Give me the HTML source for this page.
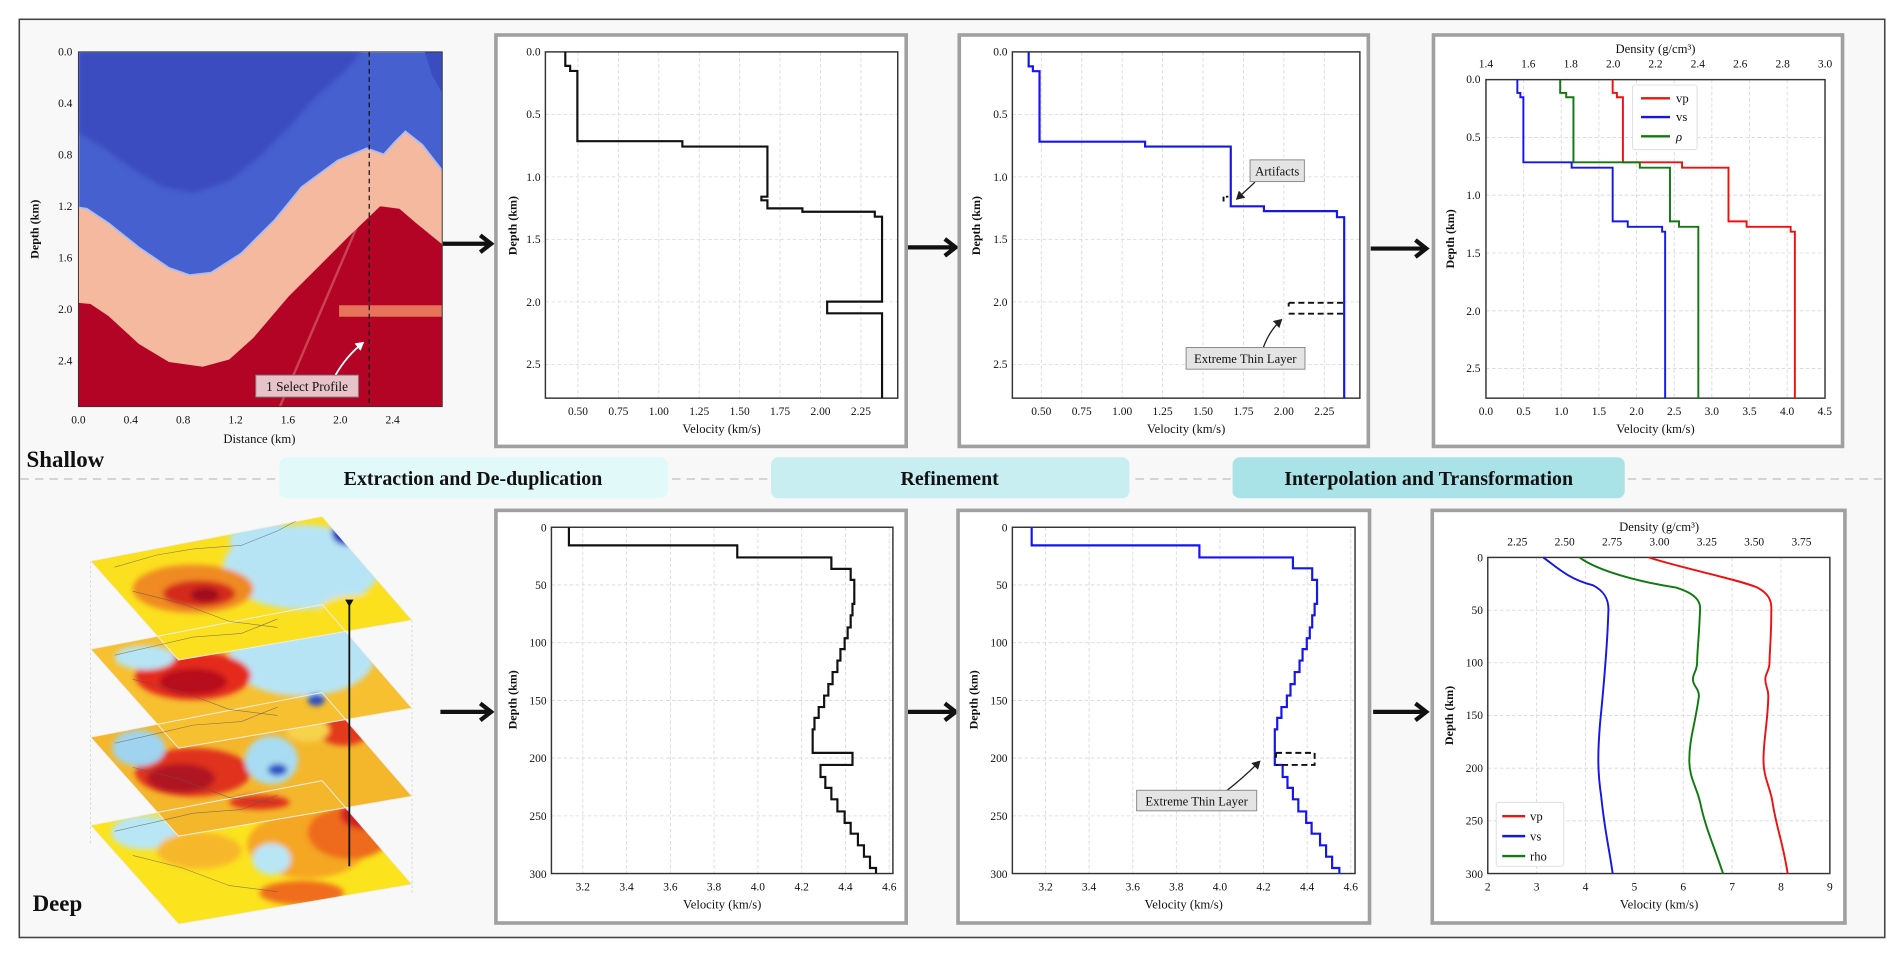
<!DOCTYPE html>
<html><head><meta charset="utf-8"><style>
html,body{margin:0;padding:0;background:#fff;}
svg{display:block}
text{font-family:"Liberation Serif",serif;fill:#111}
.t{font-size:9.5px}
.ty{font-size:9.5px;text-anchor:end}
.tx{font-size:9.5px;text-anchor:middle}
.al{font-size:10.5px;text-anchor:middle}
.dl{font-size:10px;font-weight:bold;text-anchor:middle}
.g{stroke:#d8d8d8;stroke-width:.7;stroke-dasharray:3 2;fill:none}
.ax{fill:none;stroke:#333;stroke-width:1.2}
.box{fill:#fff;stroke:#a0a0a0;stroke-width:3}
.gt{fill:#1a8a1a;font-size:9.5px;text-anchor:middle}
.pill{font-size:16.5px;font-weight:bold;text-anchor:middle}
</style></head><body>
<svg width="1892" height="958" viewBox="0 0 1568 794" preserveAspectRatio="none" xmlns="http://www.w3.org/2000/svg">
<defs>
<marker id="ah" markerWidth="8" markerHeight="8" refX="6" refY="4" orient="auto" markerUnits="userSpaceOnUse"><path d="M0,0 L7,4 L0,8 Z" fill="#222"/></marker>
<marker id="aw" markerWidth="8" markerHeight="8" refX="6" refY="4" orient="auto" markerUnits="userSpaceOnUse"><path d="M0,0 L7,4 L0,8 Z" fill="#fff"/></marker>
<filter id="bl" x="-20%" y="-20%" width="140%" height="140%"><feGaussianBlur stdDeviation="2.2"/></filter>
<filter id="sh" x="-5%" y="-5%" width="110%" height="110%"><feGaussianBlur stdDeviation="1.5"/></filter>
<clipPath id="hm"><rect x="65" y="43" width="301.5" height="294"/></clipPath>
<clipPath id="L0"><polygon points="75,465 267,428 341.5,514 148,547"/></clipPath>
<clipPath id="L1"><polygon points="75,538 267,501 341.5,587 148,620"/></clipPath>
<clipPath id="L2"><polygon points="75,611 267,574 341.5,660 148,693"/></clipPath>
<clipPath id="L3"><polygon points="75,684 267,647 341.5,733 148,766"/></clipPath>
</defs>
<rect x="0" y="0" width="1568" height="794" fill="#fff"/>
<rect x="16" y="16" width="1546" height="761" fill="#f8f8f8" stroke="#444" stroke-width="1.3"/>
<line x1="17" y1="397" x2="1561" y2="397" stroke="#cfcfcf" stroke-width="1.5" stroke-dasharray="7 5"/>

<!-- pills -->
<rect x="231.5" y="379" width="322" height="34" rx="6" fill="#e2f9f9"/>
<rect x="639" y="379" width="297" height="34" rx="6" fill="#c9eef1"/>
<rect x="1021.5" y="379" width="325" height="34" rx="6" fill="#a9e3e8"/>
<text class="pill" x="392" y="402">Extraction and De-duplication</text>
<text class="pill" x="787" y="402">Refinement</text>
<text class="pill" x="1184" y="402">Interpolation and Transformation</text>
<text x="22" y="387" style="font-size:19px;font-weight:bold">Shallow</text>
<text x="27" y="755" style="font-size:19px;font-weight:bold">Deep</text>

<!-- ============ HEATMAP ============ -->
<g clip-path="url(#hm)">
<rect x="65" y="43" width="302" height="294" fill="#b40426"/>
<path d="M65,43 L367,43 L367,203 L345,185 L331,173 L315,171 L290,195 L260,225 L239,246 L210,280 L190,298 L168,304 L140,300 L115,285 L90,262 L75,252 L65,251 Z" fill="#f4b99e"/>
<line x1="232" y1="337" x2="312" y2="150" stroke="#f4b99e" stroke-width="2" opacity=".35"/>
<path d="M65,43 L367,43 L367,142 L350,120 L336,109 L327,118 L318,128 L304,123 L280,133 L250,155 L228,182 L200,210 L175,226 L157,228 L140,222 L115,205 L90,185 L72,173 L65,172 Z" fill="#4660d0" stroke="#a9bdf2" stroke-width="1.5"/>
<path d="M65,43 L300,43 L285,60 L262,80 L240,105 L215,130 L190,150 L160,160 L135,155 L110,140 L85,122 L65,110 Z" fill="#3b4cc0" filter="url(#bl)"/>
<path d="M352,43 L367,43 L367,78 L358,62 Z" fill="#3b4cc0"/>
<rect x="281" y="253" width="86" height="9.5" fill="#e6735a"/>
</g>
<rect x="65" y="43" width="301.5" height="294" fill="none" stroke="#333" stroke-width=".8"/>
<line x1="306" y1="43" x2="306" y2="337" stroke="#111" stroke-width="1" stroke-dasharray="4 3"/>
<path d="M278,311 Q287,295 301,284" stroke="#fff" stroke-width="1.5" fill="none" marker-end="url(#aw)"/>
<rect x="212" y="311" width="85" height="18" fill="#e8c2c9" stroke="#888" stroke-width=".8"/>
<text x="254.5" y="324" class="tx" style="font-size:11px">1 Select Profile</text>
<g class="ty"><text x="60" y="46">0.0</text><text x="60" y="88.7">0.4</text><text x="60" y="131.4">0.8</text><text x="60" y="174">1.2</text><text x="60" y="216.7">1.6</text><text x="60" y="259.4">2.0</text><text x="60" y="302">2.4</text></g>
<g class="tx"><text x="65" y="351">0.0</text><text x="108.4" y="351">0.4</text><text x="151.8" y="351">0.8</text><text x="195.2" y="351">1.2</text><text x="238.6" y="351">1.6</text><text x="282" y="351">2.0</text><text x="325.4" y="351">2.4</text></g>
<text class="al" x="215" y="367">Distance (km)</text>
<text class="dl" transform="translate(32,190) rotate(-90)">Depth (km)</text>

<!-- arrows between -->
<g stroke="#111" stroke-width="3.5" fill="none">
<path d="M367,202 H405"/><path d="M398,195 L407,202 L398,209"/>
<path d="M752,205 H790"/><path d="M783,198 L792,205 L783,212"/>
<path d="M1136,206 H1180"/><path d="M1173,199 L1182,206 L1173,213"/>
<path d="M365,590 H405"/><path d="M398,583 L407,590 L398,597"/>
<path d="M752,590 H790"/><path d="M783,583 L792,590 L783,597"/>
<path d="M1138,590 H1180"/><path d="M1173,583 L1182,590 L1173,597"/>
</g>

<!-- ============ TOP BOX 2 ============ -->
<rect class="box" x="411" y="29" width="340" height="341"/>
<g class="g"><path d="M479,43V330M512.5,43V330M546,43V330M579.5,43V330M613,43V330M646.5,43V330M680,43V330M713.5,43V330M452,94.8H744M452,146.6H744M452,198.4H744M452,250.2H744M452,302H744"/></g>
<rect class="ax" x="452" y="43" width="292" height="287"/>
<path d="M468.5,43 V54.6 H472.5 V58.8 H478.5 V117 H565.5 V121.5 H636 V163 H631 V166 H636 V172.7 H665 V175.5 H725 V179.6 H731 V250 H685.5 V259.7 H731 V330" fill="none" stroke="#111" stroke-width="1.8"/>
<g class="ty"><text x="448" y="46">0.0</text><text x="448" y="98">0.5</text><text x="448" y="150">1.0</text><text x="448" y="201.5">1.5</text><text x="448" y="253.5">2.0</text><text x="448" y="305">2.5</text></g>
<g class="tx"><text x="479" y="344">0.50</text><text x="512.5" y="344">0.75</text><text x="546" y="344">1.00</text><text x="579.5" y="344">1.25</text><text x="613" y="344">1.50</text><text x="646.5" y="344">1.75</text><text x="680" y="344">2.00</text><text x="713.5" y="344">2.25</text></g>
<text class="al" x="598" y="359">Velocity (km/s)</text>
<text class="dl" transform="translate(428,187) rotate(-90)">Depth (km)</text>

<!-- ============ TOP BOX 3 ============ -->
<rect class="box" x="795" y="29" width="339" height="341"/>
<g class="g"><path d="M863,43V330M896.5,43V330M930,43V330M963.5,43V330M997,43V330M1030.5,43V330M1064,43V330M1097.5,43V330M839,94.8H1127M839,146.6H1127M839,198.4H1127M839,250.2H1127M839,302H1127"/></g>
<rect class="ax" x="839" y="43" width="288" height="287"/>
<path d="M852.5,43 V55 H856 V59 H861.5 V117.4 H949 V121.5 H1020 V171 H1047.5 V175 H1108 V180 H1114 V330" fill="none" stroke="#1515ee" stroke-width="1.8"/>
<path d="M1014,163 V167 M1016,163 H1018" stroke="#111" stroke-width="1.6" fill="none"/>
<path d="M1040,151 L1025,165" stroke="#222" stroke-width="1.1" marker-end="url(#ah)"/>
<rect x="1036" y="132.5" width="45" height="18" fill="#e4e4e4" stroke="#888" stroke-width=".8"/>
<text class="tx" x="1058.5" y="145.5" style="font-size:10.5px">Artifacts</text>
<path d="M1068,251 H1113 M1068,260 H1113 M1068,251 V254" stroke="#111" stroke-width="1.6" stroke-dasharray="5 3" fill="none"/>
<path d="M1047,288 Q1052,274 1062,265" stroke="#222" stroke-width="1.1" fill="none" marker-end="url(#ah)"/>
<rect x="983" y="288" width="98.5" height="18" fill="#e4e4e4" stroke="#888" stroke-width=".8"/>
<text class="tx" x="1032" y="301" style="font-size:10.5px">Extreme Thin Layer</text>
<g class="ty"><text x="835" y="46">0.0</text><text x="835" y="98">0.5</text><text x="835" y="150">1.0</text><text x="835" y="201.5">1.5</text><text x="835" y="253.5">2.0</text><text x="835" y="305">2.5</text></g>
<g class="tx"><text x="863" y="344">0.50</text><text x="896.5" y="344">0.75</text><text x="930" y="344">1.00</text><text x="963.5" y="344">1.25</text><text x="997" y="344">1.50</text><text x="1030.5" y="344">1.75</text><text x="1064" y="344">2.00</text><text x="1097.5" y="344">2.25</text></g>
<text class="al" x="983" y="359">Velocity (km/s)</text>
<text class="dl" transform="translate(812,187) rotate(-90)">Depth (km)</text>

<!-- ============ TOP BOX 4 ============ -->
<rect class="box" x="1188" y="29" width="339" height="341"/>
<g class="g"><path d="M1262.7,66V330M1293.9,66V330M1325.1,66V330M1356.3,66V330M1387.5,66V330M1418.7,66V330M1449.9,66V330M1481.1,66V330M1231.5,113.9H1512.5M1231.5,161.8H1512.5M1231.5,209.7H1512.5M1231.5,257.6H1512.5M1231.5,305.5H1512.5"/></g>
<rect class="ax" x="1231.5" y="66" width="281" height="264"/>
<path d="M1336.5,66 V77 H1340 V80.6 H1345 V134.5 H1394 V139 H1432.5 V183.5 H1447.5 V188 H1484 V192 H1487.5 V330" fill="none" stroke="#ee1111" stroke-width="1.6"/>
<path d="M1293,66 V77 H1298 V80.6 H1304 V134.5 H1359 V139 H1384 V183.5 H1391.5 V188 H1407.5 V330" fill="none" stroke="#107a10" stroke-width="1.6"/>
<path d="M1257.5,66 V77 H1260 V80.6 H1262.5 V134.5 H1302.5 V139 H1336.5 V183.5 H1349 V188 H1377.5 V192 H1380 V330" fill="none" stroke="#1515ee" stroke-width="1.6"/>
<rect x="1353" y="70.5" width="53.5" height="53.5" rx="2" fill="#fff" stroke="#ddd" stroke-width=".8"/>
<path d="M1360,81.5 H1384" stroke="#ee1111" stroke-width="2"/><path d="M1360,97 H1384" stroke="#1515ee" stroke-width="2"/><path d="M1360,113 H1384" stroke="#107a10" stroke-width="2"/>
<text x="1389" y="85" style="font-size:10.5px">vp</text><text x="1389" y="100.5" style="font-size:10.5px">vs</text><text x="1389" y="117" style="font-size:10.5px;font-style:italic">ρ</text>
<g class="ty"><text x="1227" y="69">0.0</text><text x="1227" y="117">0.5</text><text x="1227" y="165">1.0</text><text x="1227" y="213">1.5</text><text x="1227" y="261">2.0</text><text x="1227" y="308.5">2.5</text></g>
<g class="tx"><text x="1231.5" y="344">0.0</text><text x="1262.7" y="344">0.5</text><text x="1293.9" y="344">1.0</text><text x="1325.1" y="344">1.5</text><text x="1356.3" y="344">2.0</text><text x="1387.5" y="344">2.5</text><text x="1418.7" y="344">3.0</text><text x="1449.9" y="344">3.5</text><text x="1481.1" y="344">4.0</text><text x="1512.3" y="344">4.5</text></g>
<g class="gt"><text x="1231.5" y="56">1.4</text><text x="1266.6" y="56">1.6</text><text x="1301.75" y="56">1.8</text><text x="1336.9" y="56">2.0</text><text x="1372" y="56">2.2</text><text x="1407.1" y="56">2.4</text><text x="1442.25" y="56">2.6</text><text x="1477.4" y="56">2.8</text><text x="1512.5" y="56">3.0</text><text x="1372" y="44" style="font-size:10.5px">Density (g/cm³)</text></g>
<text class="al" x="1372" y="359">Velocity (km/s)</text>
<text class="dl" transform="translate(1205,198) rotate(-90)">Depth (km)</text>

<!-- ============ 3D MAP STACK ============ -->
<g stroke="#ccc" stroke-width=".6" stroke-dasharray="2 2"><path d="M75,465V700M341.5,514V740M148,547V766M267,428V650"/></g>
<g clip-path="url(#L3)">
<rect x="60" y="640" width="300" height="140" fill="#fbe31e"/>
<g filter="url(#bl)">
<ellipse cx="255" cy="700" rx="50" ry="28" fill="#f5a623"/>
<ellipse cx="290" cy="690" rx="35" ry="22" fill="#ee6a1a"/>
<ellipse cx="300" cy="675" rx="18" ry="12" fill="#d42020"/>
<ellipse cx="120" cy="690" rx="28" ry="14" fill="#b8e6f5"/>
<ellipse cx="225" cy="712" rx="16" ry="13" fill="#b8e6f5"/>
<ellipse cx="250" cy="740" rx="35" ry="10" fill="#ef6d1d"/>
<ellipse cx="165" cy="705" rx="35" ry="15" fill="#f7b72a"/>
</g></g>
<g clip-path="url(#L2)">
<rect x="60" y="560" width="300" height="140" fill="#f4b72c"/>
<g filter="url(#bl)">
<ellipse cx="160" cy="640" rx="48" ry="20" fill="#e0301e"/>
<ellipse cx="150" cy="645" rx="28" ry="12" fill="#b01220"/>
<ellipse cx="115" cy="620" rx="22" ry="15" fill="#9fd3f0"/>
<ellipse cx="225" cy="630" rx="22" ry="20" fill="#a8dcf2"/>
<ellipse cx="230" cy="638" rx="8" ry="5" fill="#2a52c8"/>
<ellipse cx="285" cy="600" rx="25" ry="18" fill="#e23a1e"/>
<ellipse cx="255" cy="605" rx="18" ry="10" fill="#f7d24c"/>
<ellipse cx="215" cy="665" rx="25" ry="6" fill="#e0301e"/>
</g></g>
<g clip-path="url(#L1)">
<rect x="60" y="490" width="300" height="140" fill="#f6c030"/>
<g filter="url(#bl)">
<ellipse cx="250" cy="545" rx="60" ry="32" fill="#b7e4f5"/>
<ellipse cx="290" cy="525" rx="30" ry="18" fill="#b7e4f5"/>
<ellipse cx="160" cy="560" rx="48" ry="20" fill="#e52a1c"/>
<ellipse cx="160" cy="565" rx="28" ry="11" fill="#b8101c"/>
<ellipse cx="120" cy="545" rx="25" ry="10" fill="#b7e4f5"/>
<ellipse cx="262" cy="580" rx="7" ry="5" fill="#2a4fc6"/>
<ellipse cx="250" cy="511" rx="5" ry="5" fill="#3050c8"/>
</g></g>
<g clip-path="url(#L0)">
<rect x="60" y="420" width="300" height="140" fill="#fbe01f"/>
<g filter="url(#bl)">
<ellipse cx="250" cy="470" rx="65" ry="35" fill="#b7e4f5"/>
<ellipse cx="220" cy="448" rx="30" ry="15" fill="#b7e4f5"/>
<ellipse cx="160" cy="488" rx="50" ry="20" fill="#f08a24"/>
<ellipse cx="165" cy="492" rx="30" ry="11" fill="#d42a1c"/>
<ellipse cx="170" cy="493" rx="12" ry="6" fill="#a0101a"/>
<ellipse cx="288" cy="442" rx="13" ry="10" fill="#1f2fc0"/>
<ellipse cx="300" cy="505" rx="35" ry="12" fill="#fbe01f"/>
</g></g>
<g fill="none" stroke="#eee" stroke-width=".8">
<polygon points="75,465 267,428 341.5,514 148,547"/><polygon points="75,538 267,501 341.5,587 148,620"/><polygon points="75,611 267,574 341.5,660 148,693"/><polygon points="75,684 267,647 341.5,733 148,766"/></g>
<g fill="none" stroke="#555" stroke-width=".5" opacity=".7">
<path d="M95,470 L130,460 L160,455 L200,452 L230,440 L245,432"/><path d="M110,490 L150,500 L190,515 L230,520"/>
<path d="M95,543 L130,535 L160,528 L200,525 L230,513"/><path d="M110,563 L150,573 L190,588 L230,593"/>
<path d="M95,616 L130,608 L160,601 L200,598 L230,586"/><path d="M110,636 L150,646 L190,661 L230,666"/>
<path d="M95,689 L130,681 L160,674 L200,671 L230,659"/><path d="M110,709 L150,719 L190,734 L230,739"/>
</g>
<line x1="289.5" y1="500" x2="289.5" y2="718" stroke="#111" stroke-width="1.5"/>
<path d="M286,497 H293 L289.5,503 Z" fill="#111"/>

<!-- ============ BOTTOM BOX 2 ============ -->
<rect class="box" x="411" y="423" width="340" height="342"/>
<g class="g"><path d="M483,437V724M519.3,437V724M555.6,437V724M591.8,437V724M628.1,437V724M664.4,437V724M700.7,437V724M737,437V724M457,484.8H740M457,532.7H740M457,580.5H740M457,628.3H740M457,676.2H740"/></g>
<rect class="ax" x="457" y="437" width="283" height="287"/>
<path d="M471.5,437 V452 H611 V462 H689 V471.5 H705 V480.6 H708 V500.5 H706.5 V510 H705 V520 H702.5 V529 H700 V538 H696.5 V547.5 H694 V557 H690 V567 H686.5 V576.5 H683 V586 H678.5 V595 H675 V604.5 H673.5 V624 H706.5 V634 H680 V644 H684 V653 H689 V662.5 H694 V672.5 H700 V682 H705 V691 H711 V700.6 H716 V710 H721 V719.4 H726 V724" fill="none" stroke="#111" stroke-width="1.8"/>
<g class="ty"><text x="453" y="440.5">0</text><text x="453" y="488">50</text><text x="453" y="536">100</text><text x="453" y="584">150</text><text x="453" y="631.5">200</text><text x="453" y="679.5">250</text><text x="453" y="727.5">300</text></g>
<g class="tx"><text x="483" y="738">3.2</text><text x="519.3" y="738">3.4</text><text x="555.6" y="738">3.6</text><text x="591.8" y="738">3.8</text><text x="628.1" y="738">4.0</text><text x="664.4" y="738">4.2</text><text x="700.7" y="738">4.4</text><text x="737" y="738">4.6</text></g>
<text class="al" x="598.5" y="753">Velocity (km/s)</text>
<text class="dl" transform="translate(428,580) rotate(-90)">Depth (km)</text>

<!-- ============ BOTTOM BOX 3 ============ -->
<rect class="box" x="794" y="423" width="341" height="342"/>
<g class="g"><path d="M866.5,437V724M902.6,437V724M938.8,437V724M974.9,437V724M1011,437V724M1047.2,437V724M1083.3,437V724M1119.5,437V724M839,484.8H1123M839,532.7H1123M839,580.5H1123M839,628.3H1123M839,676.2H1123"/></g>
<rect class="ax" x="839" y="437" width="284" height="287"/>
<path d="M855,437 V452 H994 V462 H1071.5 V471 H1087.5 V480.6 H1091.5 V500.5 H1089.5 V510 H1087.5 V520 H1085.5 V529 H1083 V538 H1079.5 V547.5 H1077 V557 H1073 V567 H1069.5 V576.5 H1066.5 V586 H1062 V595 H1058.5 V604.5 H1056.5 V634 H1063 V644 H1067 V653 H1071.5 V662.5 H1076 V672.5 H1082.5 V682 H1087 V691 H1094 V700.6 H1099 V710 H1104 V719.4 H1110 V724" fill="none" stroke="#1515ee" stroke-width="1.8"/>
<path d="M1057.5,624 H1089.5 V634 H1057.5 M1057.5,624 V628" stroke="#111" stroke-width="1.6" stroke-dasharray="5 3" fill="none"/>
<path d="M1017,655 Q1030,645 1044,631" stroke="#222" stroke-width="1.1" fill="none" marker-end="url(#ah)"/>
<rect x="942" y="655" width="99.5" height="17" fill="#e4e4e4" stroke="#888" stroke-width=".8"/>
<text class="tx" x="991.7" y="667.5" style="font-size:10.5px">Extreme Thin Layer</text>
<g class="ty"><text x="835" y="440.5">0</text><text x="835" y="488">50</text><text x="835" y="536">100</text><text x="835" y="584">150</text><text x="835" y="631.5">200</text><text x="835" y="679.5">250</text><text x="835" y="727.5">300</text></g>
<g class="tx"><text x="866.5" y="738">3.2</text><text x="902.6" y="738">3.4</text><text x="938.8" y="738">3.6</text><text x="974.9" y="738">3.8</text><text x="1011" y="738">4.0</text><text x="1047.2" y="738">4.2</text><text x="1083.3" y="738">4.4</text><text x="1119.5" y="738">4.6</text></g>
<text class="al" x="981" y="753">Velocity (km/s)</text>
<text class="dl" transform="translate(810,580) rotate(-90)">Depth (km)</text>

<!-- ============ BOTTOM BOX 4 ============ -->
<rect class="box" x="1187" y="423" width="342" height="342"/>
<g class="g"><path d="M1273.5,462V724M1314,462V724M1354.5,462V724M1395,462V724M1435.5,462V724M1476,462V724M1233,505.7H1516.5M1233,549.3H1516.5M1233,593H1516.5M1233,636.7H1516.5M1233,680.3H1516.5"/></g>
<rect class="ax" x="1233" y="462" width="283.5" height="262"/>
<path d="M1366.5,462 C1390,470 1440,480 1456.5,487 C1466,492 1468,498 1468,504 C1468,530 1466.5,540 1466.5,549 C1466.5,556 1463,558 1463,563 C1463,569 1465.5,570 1465.5,577 C1465,600 1461.5,612 1461.5,630 C1461.5,645 1467,652 1469,665 C1472,685 1478,700 1481.5,724" fill="none" stroke="#ee1111" stroke-width="1.6"/>
<path d="M1309,462 C1320,470 1345,480 1389,487 C1405,492 1409,498 1409,504 C1408,530 1406.5,540 1406.5,549 C1406.5,556 1403,558 1403,563 C1403,569 1408,570 1408,577 C1405,600 1400,612 1400,630 C1400,645 1406,652 1409,665 C1413,685 1420,700 1428,724" fill="none" stroke="#107a10" stroke-width="1.6"/>
<path d="M1279,462 C1290,470 1300,480 1320,485 C1330,490 1333,497 1333,505 C1332,540 1328,580 1326,600 C1324,625 1324,640 1327,660 C1330,690 1334,705 1336.5,724" fill="none" stroke="#1515ee" stroke-width="1.6"/>
<rect x="1240" y="665" width="56" height="53" rx="2" fill="#fff" stroke="#ddd" stroke-width=".8"/>
<path d="M1245,676.5 H1264" stroke="#ee1111" stroke-width="2"/><path d="M1245,693 H1264" stroke="#1515ee" stroke-width="2"/><path d="M1245,709.5 H1264" stroke="#107a10" stroke-width="2"/>
<text x="1268" y="680" style="font-size:10.5px">vp</text><text x="1268" y="696.5" style="font-size:10.5px">vs</text><text x="1268" y="713" style="font-size:10.5px">rho</text>
<g class="ty"><text x="1229" y="465.5">0</text><text x="1229" y="509">50</text><text x="1229" y="552.5">100</text><text x="1229" y="596">150</text><text x="1229" y="640">200</text><text x="1229" y="683.5">250</text><text x="1229" y="727.5">300</text></g>
<g class="tx"><text x="1233" y="738">2</text><text x="1273.5" y="738">3</text><text x="1314" y="738">4</text><text x="1354.5" y="738">5</text><text x="1395" y="738">6</text><text x="1435.5" y="738">7</text><text x="1476" y="738">8</text><text x="1516.5" y="738">9</text></g>
<g class="gt"><text x="1257.5" y="452">2.25</text><text x="1296.75" y="452">2.50</text><text x="1336" y="452">2.75</text><text x="1375.25" y="452">3.00</text><text x="1414.5" y="452">3.25</text><text x="1453.75" y="452">3.50</text><text x="1493" y="452">3.75</text><text x="1375" y="440" style="font-size:10.5px">Density (g/cm³)</text></g>
<text class="al" x="1375" y="753">Velocity (km/s)</text>
<text class="dl" transform="translate(1204,593) rotate(-90)">Depth (km)</text>
</svg>
</body></html>
